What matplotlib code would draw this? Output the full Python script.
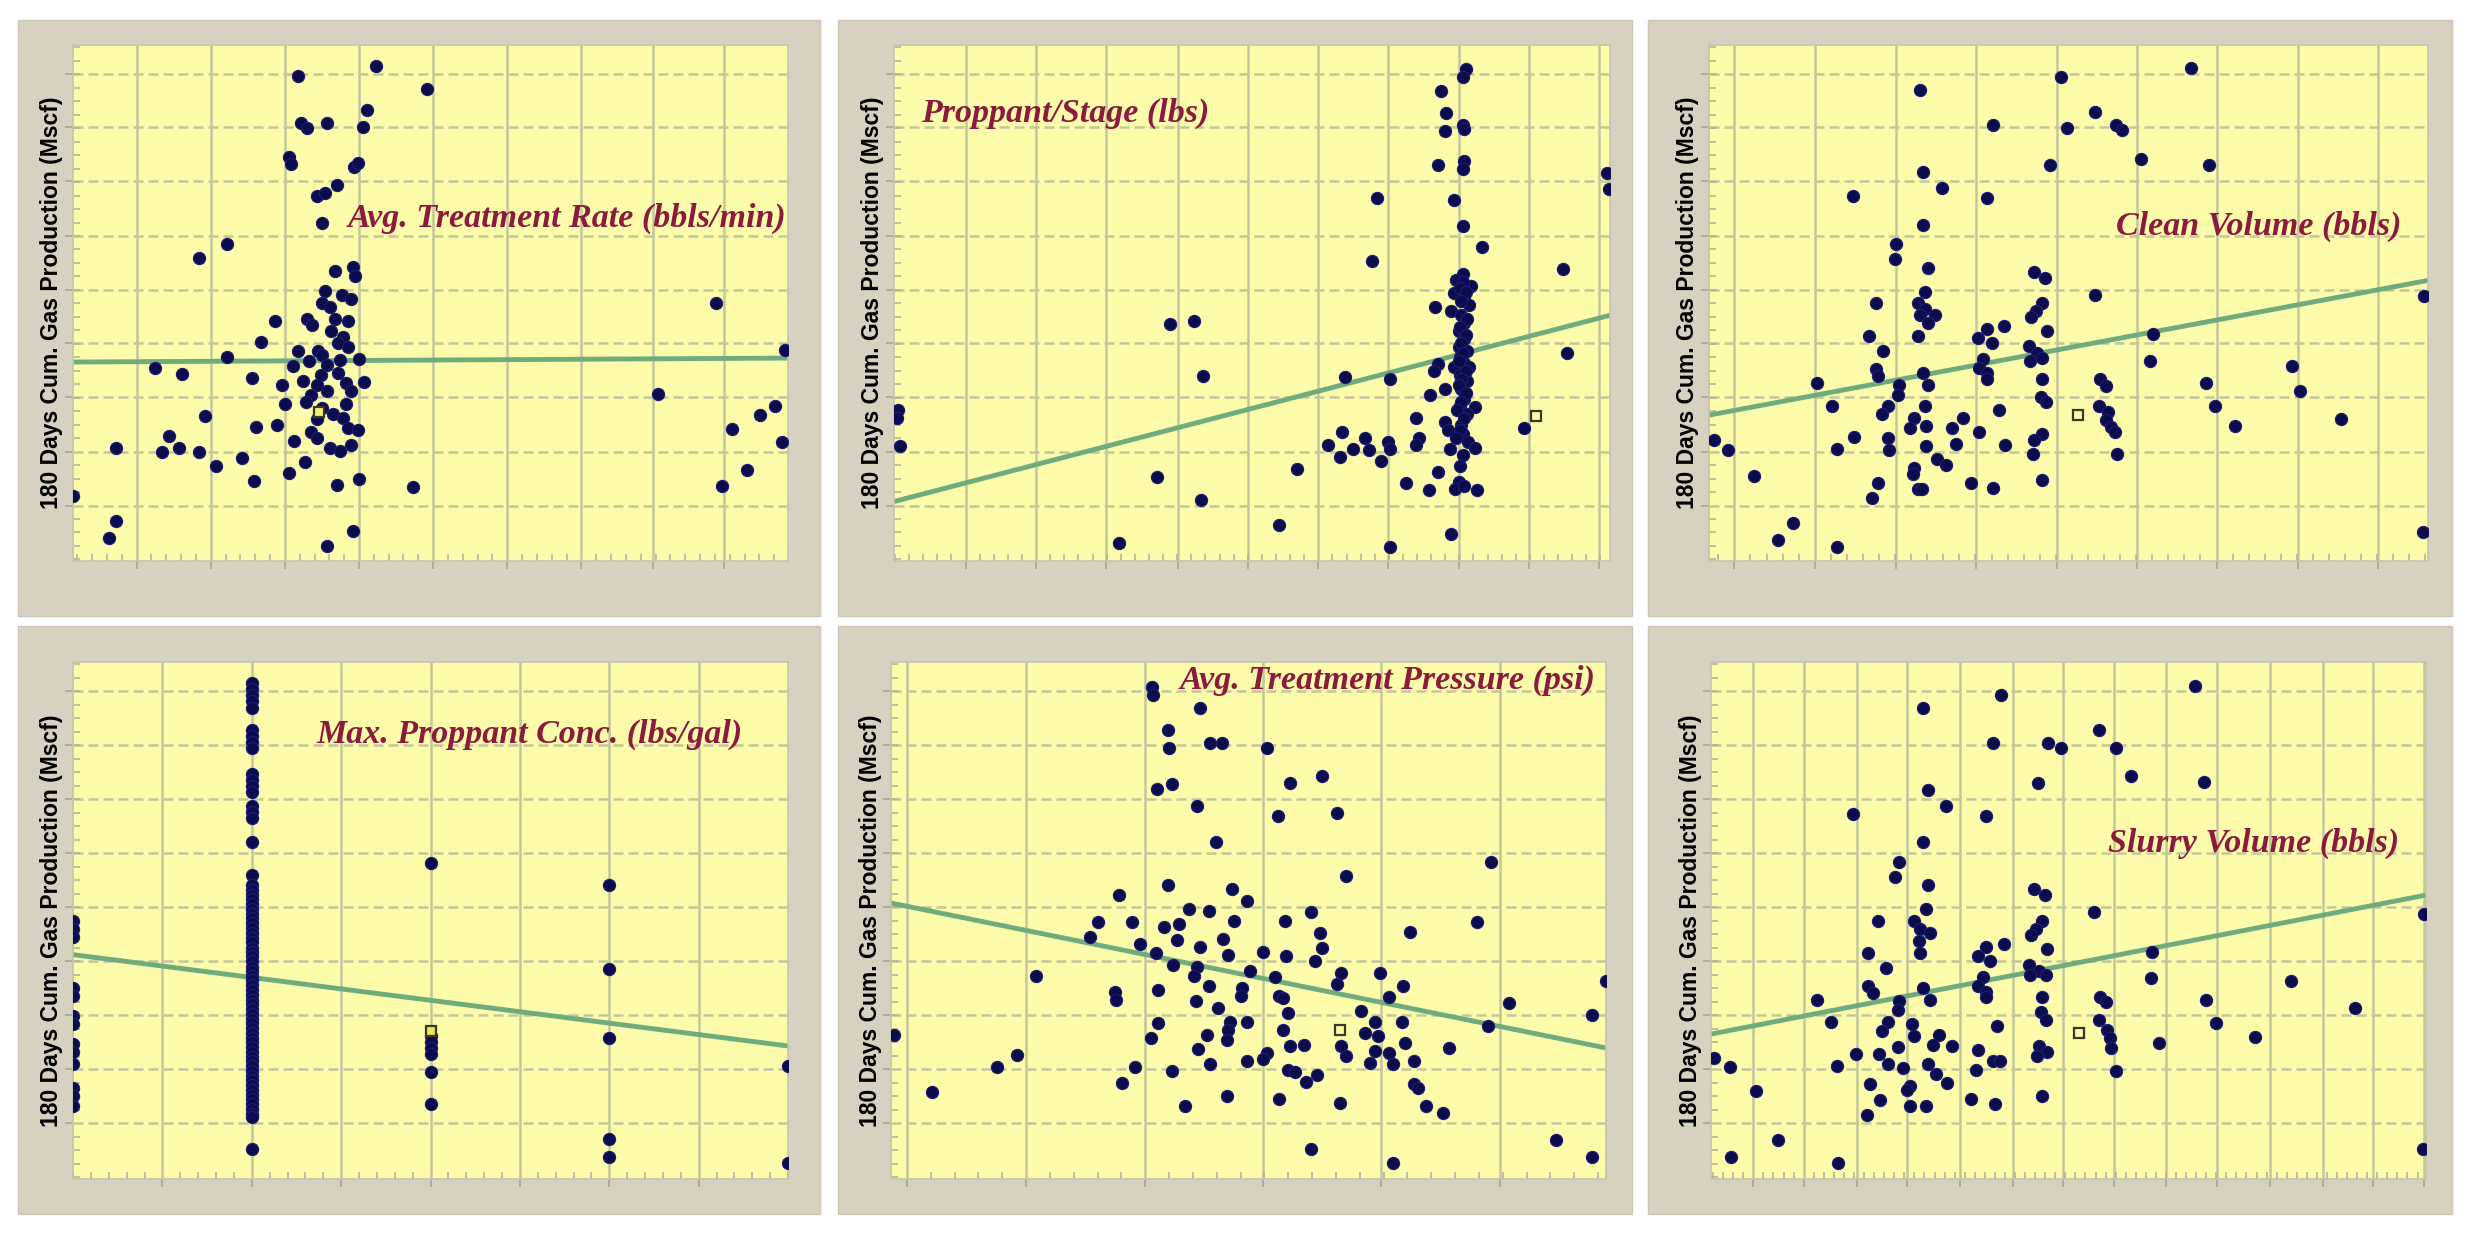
import matplotlib
matplotlib.use("Agg")
import matplotlib.pyplot as plt
from matplotlib.patches import Rectangle
from matplotlib.ticker import FixedLocator, AutoMinorLocator

# ---------------- data (arbitrary axis units) ----------------
YLABEL = "180 Days Cum. Gas Production (Mscf)"

# Panel 1: Avg. Treatment Rate
rate_x = [425, 572, 668, 555, 430, 442, 480, 548, 408, 412, 530, 538, 460, 475, 498, 470, 290, 238,
          495, 528, 532, 475, 508, 525, 470, 442, 485, 495, 382, 520, 452, 488, 510, 355, 425, 462,
          500, 520, 470, 290, 415, 445, 480, 505, 540, 155, 205, 468, 500, 338, 395, 435, 460, 515,
          550, 525, 480, 450, 400, 440, 470, 515, 490, 250, 385, 345, 460, 510, 520, 538, 450, 418,
          460, 485, 505, 525, 182, 200, 168, 82, 238, 270, 320, 342, 408, 438, 498, 540, 642, 82,
          68, 528, 480, 0, 1215, 1105, 1345, 1325, 1298, 1245, 1338, 1272, 1225]
rate_y = [1225, 1248, 1192, 1138, 1105, 1092, 1105, 1095, 1020, 1002, 995, 1005, 920, 928, 948, 852,
          800, 765, 732, 742, 720, 682, 672, 660, 650, 610, 640, 610, 605, 605, 595, 580, 565, 552,
          530, 530, 550, 540, 520, 515, 492, 505, 495, 508, 510, 488, 472, 470, 475, 462, 445, 455,
          445, 450, 452, 430, 430, 420, 395, 400, 385, 395, 370, 365, 342, 338, 358, 360, 335, 330,
          325, 302, 310, 285, 278, 292, 315, 285, 275, 285, 275, 240, 260, 202, 222, 250, 192, 208,
          187, 100, 58, 75, 38, 165, 650, 422, 532, 390, 368, 332, 300, 230, 188]
rate_sq = (465, 375)
rate_trend_x = [0, 1350]
rate_trend_y = [502, 512]

# Panel 2: Proppant/Stage
prop_x = [1078, 1072, 1032, 1040, 1072, 1075, 1038, 1025, 1075, 1073, 1345, 1348, 910, 1055, 1072,
          1108, 902, 1262, 1072, 1088, 1060, 1055, 1075, 1020, 1050, 1085, 1070, 1075, 1065, 1075,
          1065, 1080, 1068, 1075, 1055, 1085, 1025, 1018, 1068, 1080, 1038, 1070, 1010, 1075, 1095,
          1068, 1080, 1038, 1070, 1045, 1073, 1082, 1095, 1048, 1072, 1067, 1025, 1065, 1058, 1075,
          1100, 1008, 965, 1050, 935, 520, 565, 582, 850, 935, 985, 990, 985, 845, 818, 840, 865,
          888, 895, 918, 932, 935, 760, 725, 495, 578, 425, 1268, 1188, 8, 5, 12,
          1072, 1068, 1078, 1070, 1080, 1068, 1078, 1070, 1072, 1065, 1078, 1070, 1065, 1078, 1070,
          1062, 1075, 1068, 1060]
prop_y = [1242, 1222, 1185, 1130, 1100, 1090, 1085, 998, 1010, 990, 980, 938, 915, 910, 845, 792,
          758, 738, 725, 695, 708, 675, 665, 642, 630, 645, 620, 600, 580, 560, 540, 530, 515, 500,
          490, 490, 498, 480, 470, 455, 435, 435, 418, 410, 388, 390, 370, 350, 342, 330, 320, 300,
          285, 282, 268, 240, 225, 200, 182, 190, 180, 180, 198, 68, 35, 598, 605, 468, 465, 458,
          360, 310, 292, 325, 292, 262, 282, 310, 280, 252, 300, 282, 232, 92, 212, 155, 45, 525,
          335, 380, 360, 290,
          705, 690, 680, 655, 610, 590, 570, 550, 525, 505, 480, 460, 445, 425, 400, 380, 360, 330, 310]
prop_sq = (1210, 365)
prop_trend_x = [0, 1350]
prop_trend_y = [150, 620]

# Panel 3: Clean Volume
clean_x = [400, 665, 912, 730, 538, 678, 770, 782, 818, 945, 405, 645, 440, 525, 273, 405, 353, 352,
           415, 615, 635, 730, 1352, 315, 408, 395, 408, 400, 428, 415, 630, 618, 610, 558, 302, 395,
           525, 508, 535, 640, 330, 840, 605, 620, 630, 608, 518, 510, 525, 315, 320, 405, 415, 835,
           1102, 360, 525, 205, 630, 740, 750, 940, 1118, 358, 628, 638, 232, 338, 408, 548, 738,
           755, 958, 328, 388, 480, 1195, 750, 760, 768, 995, 410, 380, 460, 510, 630, 338, 275, 242,
           410, 468, 560, 615, 35, 10, 340, 432, 448, 612, 772, 85, 388, 385, 495, 630, 320, 395, 403,
           538, 308, 158, 130, 242, 1350]
clean_y = [1188, 1222, 1245, 1133, 1100, 1092, 1100, 1088, 1015, 1000, 982, 998, 940, 915, 920, 848,
           800, 762, 740, 730, 715, 672, 668, 650, 680, 650, 635, 620, 620, 600, 650, 630, 615, 592,
           568, 568, 585, 562, 550, 580, 530, 572, 542, 525, 512, 505, 510, 488, 475, 485, 468, 475,
           445, 505, 492, 445, 458, 448, 458, 458, 442, 450, 428, 420, 415, 400, 392, 392, 390, 382,
           392, 375, 390, 370, 360, 362, 358, 355, 338, 325, 340, 340, 335, 335, 325, 320, 310, 312,
           282, 290, 295, 292, 305, 280, 305, 280, 258, 242, 270, 270, 215, 235, 220, 198, 205, 198,
           182, 182, 185, 158, 95, 52, 35, 72]
clean_sq = (698, 368)
clean_trend_x = [0, 1360]
clean_trend_y = [368, 708]

# Panel 4: Max. Proppant Conc. (lbs/gal)
conc_x = ([2] * 69 + [4] * 7 + [6] * 5 + [8] * 2 + [0] * 13)
conc_y = [1248, 1235, 1220, 1205, 1185, 1130, 1115, 1100, 1085, 1020, 1005, 990, 975, 940, 925, 910,
          848, 765,
          740, 729, 716, 705, 692, 681, 668, 657, 644, 631, 620, 607, 596, 583, 572, 561, 548, 535,
          524, 511, 500, 489, 476, 463, 452, 441, 428, 415, 404, 392, 380, 367, 356, 345, 332, 319,
          308, 297, 284, 271, 260, 249, 236, 223, 212, 201, 188, 176, 164, 155, 75,
          795, 360, 345, 330, 315, 270, 188,
          740, 530, 355, 100, 55,
          285, 40,
          650, 630, 610, 480, 460, 410, 390, 340, 320, 290, 230, 210, 185]
conc_sq = (4, 372)
conc_trend_x = [0, 8]
conc_trend_y = [565, 335]

# Panel 5: Avg. Treatment Pressure
press_x = [493, 495, 583, 523, 525, 603, 625, 710, 813, 753, 530, 503, 577, 730, 843, 613, 1133, 860,
           523, 430, 643, 673, 563, 600, 793, 390, 455, 543, 515, 647, 743, 1107, 375, 980, 810, 540,
           627, 470, 583, 500, 703, 813, 637, 745, 800, 533, 577, 677, 273, 850, 923, 573, 843, 725,
           600, 663, 967, 1350, 423, 505, 425, 660, 733, 740, 575, 940, 1167, 617, 750, 887, 1323,
           505, 640, 673, 913, 965, 1127, 637, 740, 895, 490, 597, 920, 635, 970, 753, 780, 850, 1053,
           580, 710, 913, 940, 703, 860, 673, 987, 905, 947, 603, 460, 200, 237, 530, 750, 763, 805,
           783, 437, 987, 995, 77, 635, 733, 847, 555, 1010, 1043, 793, 947, 1255, 1323, 5]
press_y = [1240, 1220, 1185, 1130, 1085, 1098, 1098, 1085, 1015, 998, 995, 982, 940, 915, 922, 848,
           798, 762, 740, 715, 730, 700, 680, 675, 672, 648, 648, 642, 635, 650, 650, 648, 610, 622,
           620, 602, 605, 592, 585, 570, 572, 582, 565, 562, 550, 540, 535, 525, 512, 520, 518, 510,
           490, 508, 485, 480, 485, 498, 472, 475, 450, 462, 460, 455, 448, 458, 442, 430, 418, 422,
           412, 392, 395, 395, 395, 395, 385, 375, 375, 368, 355, 362, 360, 350, 342, 335, 338, 335,
           330, 328, 318, 322, 318, 302, 310, 298, 298, 292, 290, 290, 282, 282, 312, 272, 275, 270,
           262, 245, 242, 238, 228, 220, 208, 202, 192, 185, 185, 165, 75, 40, 98, 55, 362]
press_sq = (847, 375)
press_trend_x = [0, 1350]
press_trend_y = [695, 330]

# Panel 6: Slurry Volume
slurry_x = [400, 547, 913, 733, 533, 637, 660, 765, 793, 930, 617, 410, 443, 520, 268, 400, 355, 347,
            410, 610, 630, 723, 1347, 315, 383, 405, 395, 413, 393, 625, 613, 605, 553, 297, 395, 520,
            505, 527, 635, 330, 833, 600, 620, 633, 603, 513, 505, 520, 297, 305, 400, 413, 830, 1095,
            355, 520, 200, 625, 735, 745, 935, 1215, 353, 623, 633, 227, 335, 380, 540, 733, 747, 953,
            323, 383, 430, 1027, 753, 755, 845, 420, 455, 505, 620, 635, 353, 273, 317, 237, 410, 335,
            363, 533, 545, 615, 500, 35, 5, 425, 445, 765, 85, 300, 375, 370, 490, 625, 320, 375, 405,
            537, 295, 127, 37, 240, 1345]
slurry_y = [1185, 1220, 1242, 1130, 1098, 1098, 1085, 1085, 1015, 1000, 998, 980, 940, 915, 920, 848,
            798, 760, 740, 730, 715, 672, 668, 650, 650, 680, 630, 620, 600, 650, 630, 615, 592, 568,
            570, 585, 562, 550, 580, 532, 572, 540, 525, 515, 515, 508, 485, 470, 485, 468, 480, 452,
            505, 498, 448, 458, 450, 458, 458, 445, 450, 430, 425, 420, 400, 395, 395, 390, 385, 400,
            375, 392, 372, 360, 362, 358, 355, 330, 342, 338, 335, 325, 335, 320, 332, 315, 315, 285,
            290, 290, 280, 298, 298, 310, 275, 282, 305, 265, 242, 272, 222, 240, 235, 225, 202, 208,
            200, 185, 185, 190, 162, 98, 55, 40, 75]
slurry_sq = (695, 368)
slurry_trend_x = [0, 1350]
slurry_trend_y = [365, 715]

# ---------------- styling ----------------
W, H = 2471, 1237
DPI = 100
YELLOW = "#fcfcaa"
FRAME = "#d6d1c1"
GRID = "#c3c79c"
DOT = "#0c0c4c"
DOT_EDGE = "#1c1c78"
TREND = "#6fab7c"
TITLE_C = "#8c1a3e"

fig = plt.figure(figsize=(W / DPI, H / DPI), dpi=DPI, facecolor="white")


def frac_rect(x0, y0, x1, y1):
    return [x0 / W, 1 - y1 / H, (x1 - x0) / W, (y1 - y0) / H]


# background axes holding the grey frames
bg = fig.add_axes([0, 0, 1, 1], zorder=-10)
bg.set_xlim(0, W)
bg.set_ylim(H, 0)
bg.axis("off")
frames = [(18, 20, 820, 616), (838, 20, 1632, 616), (1648, 20, 2452, 616),
          (18, 626, 820, 1214), (838, 626, 1632, 1214), (1648, 626, 2452, 1214)]
for (x0, y0, x1, y1) in frames:
    bg.add_patch(Rectangle((x0, y0), x1 - x0, y1 - y0, facecolor=FRAME,
                           edgecolor="#cbc6b6", linewidth=1.0))

ygrid = [140, 276, 413, 549, 685, 821, 958, 1094, 1230]

panels = [
    dict(rect=(73, 45, 788, 561), x=rate_x, y=rate_y, sq=rate_sq, tx=rate_trend_x, ty=rate_trend_y,
         xlim=(0, 1350), xgrid=[120, 260, 400, 540, 680, 820, 960, 1095, 1230],
         title="Avg. Treatment Rate (bbls/min)", tpos=(1348, 865), ha="right", sqface="#f4f47a"),
    dict(rect=(894, 45, 1610, 561), x=prop_x, y=prop_y, sq=prop_sq, tx=prop_trend_x, ty=prop_trend_y,
         xlim=(0, 1350), xgrid=[135, 268, 400, 535, 668, 800, 932, 1065, 1198, 1330],
         title="Proppant/Stage (lbs)", tpos=(50, 1130), ha="left", sqface=YELLOW),
    dict(rect=(1709, 45, 2428, 561), x=clean_x, y=clean_y, sq=clean_sq, tx=clean_trend_x,
         ty=clean_trend_y, xlim=(0, 1360), xgrid=[48, 200, 353, 505, 658, 810, 960, 1115, 1265],
         title="Clean Volume (bbls)", tpos=(1310, 845), ha="right", sqface=YELLOW),
    dict(rect=(73, 662, 788, 1179), x=conc_x, y=conc_y, sq=conc_sq, tx=conc_trend_x, ty=conc_trend_y,
         xlim=(0, 8), xgrid=[1, 2, 3, 4, 5, 6, 7],
         title="Max. Proppant Conc. (lbs/gal)", tpos=(7.49, 1120), ha="right", sqface="#e8e860"),
    dict(rect=(891, 662, 1606, 1179), x=press_x, y=press_y, sq=press_sq, tx=press_trend_x,
         ty=press_trend_y, xlim=(0, 1350), xgrid=[30, 255, 480, 703, 925, 1150],
         title="Avg. Treatment Pressure (psi)", tpos=(1330, 1255), ha="right", sqface=YELLOW),
    dict(rect=(1711, 662, 2426, 1179), x=slurry_x, y=slurry_y, sq=slurry_sq, tx=slurry_trend_x,
         ty=slurry_trend_y, xlim=(0, 1350),
         xgrid=[80, 175, 275, 370, 470, 570, 665, 760, 860, 955, 1055, 1155, 1250, 1347],
         title="Slurry Volume (bbls)", tpos=(1300, 845), ha="right", sqface=YELLOW),
]

for p in panels:
    x0, y0, x1, y1 = p["rect"]
    ax = fig.add_axes(frac_rect(x0, y0, x1, y1), zorder=1)
    ax.set_facecolor(YELLOW)
    ax.set_xlim(*p["xlim"])
    ax.set_ylim(0, 1302)
    ax.xaxis.set_major_locator(FixedLocator(p["xgrid"]))
    ax.yaxis.set_major_locator(FixedLocator(ygrid))
    ax.xaxis.set_minor_locator(AutoMinorLocator(5))
    ax.yaxis.set_minor_locator(AutoMinorLocator(4))
    ax.set_xticklabels([])
    ax.set_yticklabels([])
    ax.tick_params(which="major", direction="out", length=6, width=1.2, color="#a8a890")
    ax.tick_params(which="minor", direction="in", length=5, width=1.2, color="#b4b49a")
    ax.grid(True, axis="x", which="major", color=GRID, linewidth=1.8, linestyle="-")
    ax.grid(True, axis="y", which="major", color=GRID, linewidth=1.8, linestyle=(0, (4, 2)))
    ax.set_axisbelow(True)
    for s in ax.spines.values():
        s.set_color("#c4c4ac")
        s.set_linewidth(1.2)

    ax.plot(p["tx"], p["ty"], color=TREND, linewidth=3.5, solid_capstyle="butt", zorder=2)
    ax.plot(p["x"], p["y"], linestyle="none", marker="o", markersize=8.8,
            markerfacecolor=DOT, markeredgecolor=DOT_EDGE, markeredgewidth=0.8, zorder=3)
    ax.plot([p["sq"][0]], [p["sq"][1]], linestyle="none", marker="s", markersize=6.5,
            markerfacecolor=p["sqface"], markeredgecolor="#3a3a22", markeredgewidth=1.6, zorder=4)

    ax.text(p["tpos"][0], p["tpos"][1], p["title"], ha=p["ha"], va="center",
            fontsize=24.5, fontweight="bold", fontstyle="italic", family="Liberation Serif",
            color=TITLE_C, zorder=5)
    wpx = x1 - x0
    ax.text(-21 / wpx, 0.5, YLABEL, transform=ax.transAxes, rotation=90, ha="center",
            va="center", fontsize=16.5, fontweight="bold", family="Liberation Sans",
            color="black", clip_on=False)

fig.savefig("out.png", dpi=DPI, facecolor="white")
